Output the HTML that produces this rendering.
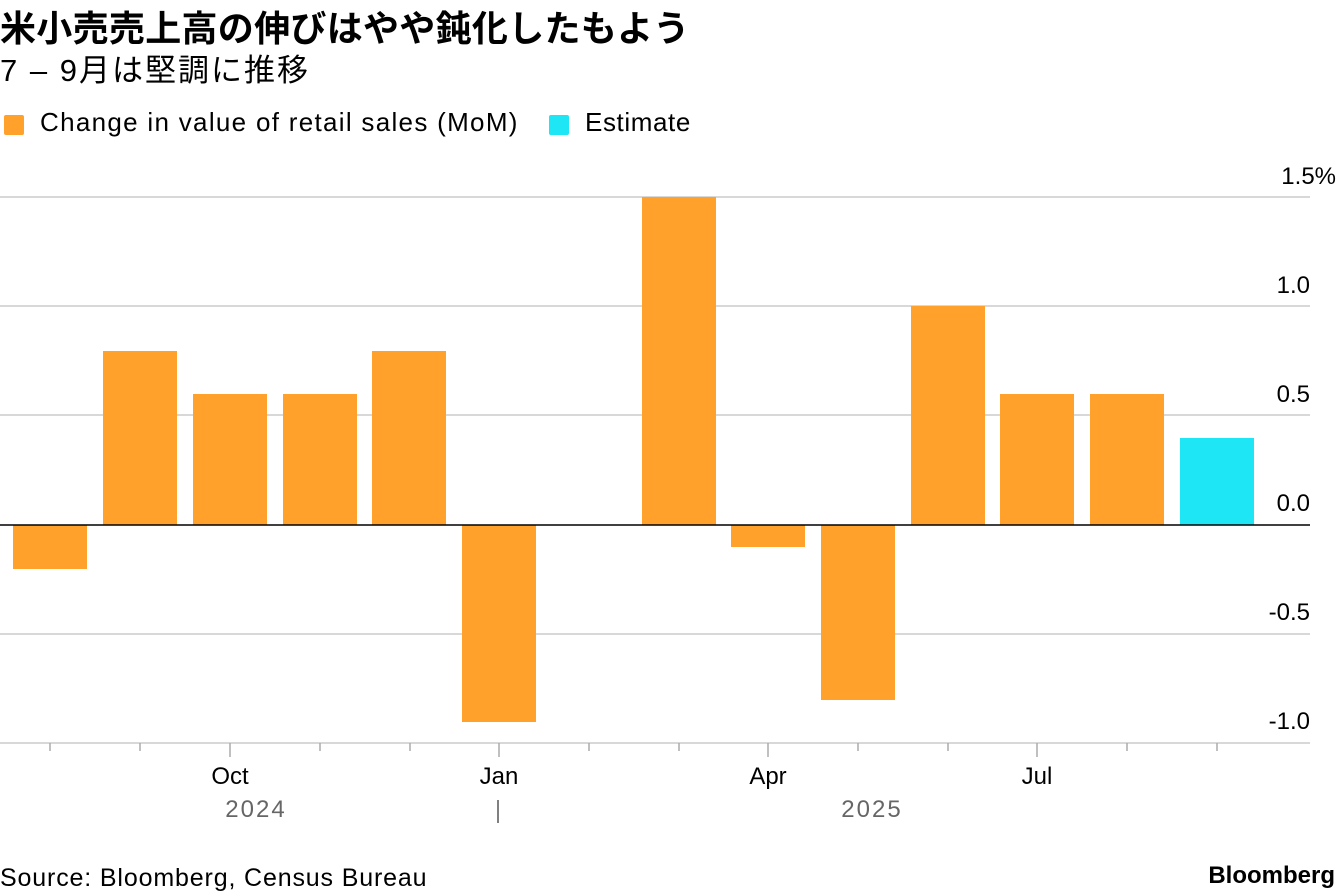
<!DOCTYPE html>
<html><head><meta charset="utf-8"><style>
body{margin:0;width:1337px;height:896px;background:#fff;overflow:hidden;font-family:"Liberation Sans","Noto Sans CJK JP",sans-serif;color:#000}
.t{position:absolute;white-space:nowrap}
</style></head><body>
<div class="t" style="left:0;top:0px;font-size:36px;font-weight:bold;letter-spacing:0.3px">米小売売上高の伸びはやや鈍化したもよう</div>
<div class="t" style="left:0;top:45px;font-size:31px;letter-spacing:2px">7 – 9月は堅調に推移</div>
<div style="position:absolute;left:4px;top:115px;width:20px;height:20px;background:#ffa12b;border-radius:2px"></div>
<div class="t" style="left:40px;top:107px;font-size:26px;letter-spacing:1.3px">Change in value of retail sales (MoM)</div>
<div style="position:absolute;left:549px;top:115px;width:20px;height:20px;background:#1ee6f4;border-radius:2px"></div>
<div class="t" style="left:585px;top:107px;font-size:26px;letter-spacing:0.6px">Estimate</div>
<svg style="position:absolute;left:0;top:0" width="1337" height="896">
<g stroke="#ccc" stroke-width="1.5">
<line x1="0" x2="1310" y1="197" y2="197"/><line x1="0" x2="1310" y1="306" y2="306"/><line x1="0" x2="1310" y1="415" y2="415"/><line x1="0" x2="1310" y1="634" y2="634"/><line x1="0" x2="1310" y1="743" y2="743"/>
</g>
<g fill="#ffa12b">
<rect x="13" y="525" width="74" height="44"/>
<rect x="103" y="351" width="74" height="174"/>
<rect x="193" y="394" width="74" height="131"/>
<rect x="283" y="394" width="74" height="131"/>
<rect x="372" y="351" width="74" height="174"/>
<rect x="462" y="525" width="74" height="197"/>
<rect x="642" y="197" width="74" height="328"/>
<rect x="731" y="525" width="74" height="22"/>
<rect x="821" y="525" width="74" height="175"/>
<rect x="911" y="306" width="74" height="219"/>
<rect x="1000" y="394" width="74" height="131"/>
<rect x="1090" y="394" width="74" height="131"/>
</g>
<rect x="1180" y="438" width="74" height="87" fill="#1ee6f4"/>
<line x1="0" x2="1310" y1="525" y2="525" stroke="#000" stroke-width="1.5"/>
<g stroke="#aaa" stroke-width="1.5">
<line x1="50" x2="50" y1="743" y2="751"/><line x1="140" x2="140" y1="743" y2="751"/><line x1="230" x2="230" y1="743" y2="757"/><line x1="320" x2="320" y1="743" y2="751"/><line x1="410" x2="410" y1="743" y2="751"/><line x1="499" x2="499" y1="743" y2="757"/><line x1="589" x2="589" y1="743" y2="751"/><line x1="679" x2="679" y1="743" y2="751"/><line x1="768" x2="768" y1="743" y2="757"/><line x1="858" x2="858" y1="743" y2="751"/><line x1="948" x2="948" y1="743" y2="751"/><line x1="1037" x2="1037" y1="743" y2="757"/><line x1="1127" x2="1127" y1="743" y2="751"/><line x1="1217" x2="1217" y1="743" y2="751"/>
</g>
<line x1="498" x2="498" y1="800" y2="823" stroke="#555" stroke-width="1.5"/>
<g font-size="24" font-family="Liberation Sans,sans-serif" text-anchor="end">
<text x="1336" y="184">1.5%</text><text x="1310" y="293">1.0</text><text x="1310" y="402">0.5</text><text x="1310" y="511">0.0</text><text x="1310" y="620">-0.5</text><text x="1310" y="729">-1.0</text>
</g>
<g font-size="24" font-family="Liberation Sans,sans-serif" text-anchor="middle">
<text x="230" y="784">Oct</text><text x="499" y="784">Jan</text><text x="768" y="784">Apr</text><text x="1037" y="784">Jul</text>
<text x="256" y="817" fill="#666" letter-spacing="2">2024</text><text x="872" y="817" fill="#666" letter-spacing="2">2025</text>
</g>
</svg>
<div class="t" style="left:0;top:864px;font-size:25px;letter-spacing:0.85px">Source: Bloomberg, Census Bureau</div>
<div class="t" style="right:2px;top:862px;font-size:24px;font-weight:bold">Bloomberg</div>
</body></html>
